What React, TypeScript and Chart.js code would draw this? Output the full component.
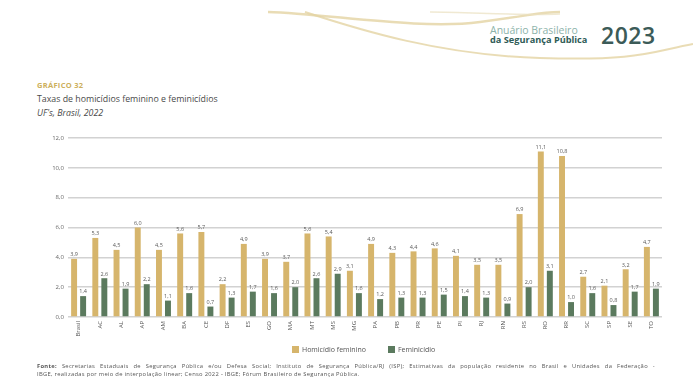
import React, { useEffect, useRef } from "react";
import { Chart, registerables } from "chart.js";

Chart.register(...registerables);

const categories = ["Brasil", "AC", "AL", "AP", "AM", "BA", "CE", "DF", "ES", "GO", "MA", "MT", "MS", "MG", "PA", "PB", "PR", "PE", "PI", "RJ", "RN", "RS", "RO", "RR", "SC", "SP", "SE", "TO"];
const homicidioFeminino = [3.9, 5.3, 4.5, 6.0, 4.5, 5.6, 5.7, 2.2, 4.9, 3.9, 3.7, 5.6, 5.4, 3.1, 4.9, 4.3, 4.4, 4.6, 4.1, 3.5, 3.5, 6.9, 11.1, 10.8, 2.7, 2.1, 3.2, 4.7];
const feminicidio = [1.4, 2.6, 1.9, 2.2, 1.1, 1.6, 0.7, 1.3, 1.7, 1.6, 2.0, 2.6, 2.9, 1.6, 1.2, 1.3, 1.3, 1.5, 1.4, 1.3, 0.9, 2.0, 3.1, 1.0, 1.6, 0.8, 1.7, 1.9];
const seriesNames = ["Homicídio feminino", "Feminicídio"];
const yTicks = [0, 2, 4, 6, 8, 10, 12];

const GOLD = "#d6b56c";
const GREEN = "#5b7a5e";
const FONT = "'Open Sans', 'DejaVu Sans', sans-serif";

const fmt = (v: number) => v.toFixed(1).replace(".", ",");

const valueLabels = {
  id: "valueLabels",
  afterDatasetsDraw(chart: any) {
    const ctx = chart.ctx;
    ctx.save();
    ctx.font = `5.5px ${FONT}`;
    ctx.fillStyle = "#5a5a5a";
    ctx.textAlign = "center";
    ctx.textBaseline = "bottom";
    chart.data.datasets.forEach((ds: any, i: number) => {
      const meta = chart.getDatasetMeta(i);
      meta.data.forEach((bar: any, j: number) => {
        ctx.fillText(fmt(ds.data[j]), bar.x, bar.y - 1.5);
      });
    });
    ctx.restore();
  },
};

function BarChart() {
  const ref = useRef<HTMLCanvasElement>(null);
  useEffect(() => {
    if (!ref.current) return;
    const chart = new Chart(ref.current, {
      type: "bar",
      data: {
        labels: categories,
        datasets: [
          { label: seriesNames[0], data: homicidioFeminino, backgroundColor: GOLD, categoryPercentage: 0.85, barPercentage: 0.66 },
          { label: seriesNames[1], data: feminicidio, backgroundColor: GREEN, categoryPercentage: 0.85, barPercentage: 0.66 },
        ],
      },
      options: {
        animation: false,
        responsive: false,
        maintainAspectRatio: false,
        layout: { padding: { top: 13, right: 31, left: 0, bottom: 0 } },
        plugins: {
          tooltip: { enabled: false },
          legend: { display: false },
        },
        scales: {
          x: {
            grid: { display: false, drawTicks: false },
            border: { display: false },
            ticks: {
              color: "#555",
              font: { family: FONT, size: 6 },
              maxRotation: 90,
              minRotation: 90,
              padding: 4,
              autoSkip: false,
            },
            afterFit(scale: any) {
              scale.height = 29;
            },
          },
          y: {
            min: 0,
            max: 12,
            afterBuildTicks(scale: any) {
              scale.ticks = yTicks.map((v) => ({ value: v }));
            },
            grid: { color: "#d2d2d2", lineWidth: 1.5, drawTicks: false },
            border: { display: false },
            ticks: {
              color: "#666",
              font: { family: FONT, size: 6 },
              padding: 4,
              callback: (v: any) => fmt(Number(v)),
            },
            afterFit(scale: any) {
              scale.width = 68;
            },
          },
        },
      },
      plugins: [valueLabels],
    });
    return () => chart.destroy();
  }, []);
  return <canvas ref={ref} width={693} height={221} style={{ position: "absolute", left: 0, top: 125, width: 693, height: 221 }} />;
}

export default function App() {
  const legendText = { position: "absolute" as const, top: 346, fontSize: 7, lineHeight: "8px", color: "#555" };
  const footLine = { position: "absolute" as const, left: 37, width: 618, fontSize: 5.8, lineHeight: "8px", color: "#555", letterSpacing: 0.3, whiteSpace: "nowrap" as const };
  return (
    <div style={{ position: "fixed", left: 0, top: 0, width: 693, height: 387, background: "#fff", overflow: "hidden", fontFamily: FONT }}>
      <svg width={693} height={80} style={{ position: "absolute", left: 0, top: 0 }}>
        <path d="M268 12 C 330 14, 420 30, 480 22 S 540 12, 560 12" stroke="#e3d3a2" strokeWidth={2.5} fill="none" opacity={0.8} />
        <path d="M305 12 C 360 30, 440 55, 540 58 S 650 52, 693 44" stroke="#e3d3a2" strokeWidth={2} fill="none" opacity={0.8} />
        <path d="M430 12 C 470 12, 520 16, 560 14" stroke="#eadfbf" strokeWidth={1.5} fill="none" opacity={0.7} />
      </svg>
      <div style={{ position: "absolute", left: 490, top: 25, lineHeight: "10px", whiteSpace: "nowrap" }}>
        <div style={{ fontSize: 10.5, color: "#8db3aa" }}>Anuário Brasileiro</div>
        <div style={{ fontSize: 9.2, color: "#2f5c57", fontWeight: 700 }}>da Segurança Pública</div>
      </div>
      <div style={{ position: "absolute", left: 601, top: 19, fontSize: 23, color: "#3c5b58", fontWeight: 600, letterSpacing: 0.5 }}>2023</div>
      <div style={{ position: "absolute", left: 37, top: 80, fontSize: 7.5, color: "#cdb05c", fontWeight: 700, letterSpacing: 0.3 }}>GRÁFICO 32</div>
      <div style={{ position: "absolute", left: 37, top: 93, fontSize: 8.8, color: "#4a4a4a" }}>Taxas de homicídios feminino e feminicídios</div>
      <div style={{ position: "absolute", left: 37, top: 107, fontSize: 8.8, color: "#4a4a4a", fontStyle: "italic" }}>UF's, Brasil, 2022</div>
      <BarChart />
      <div style={{ position: "absolute", left: 292, top: 346, width: 7, height: 7, background: GOLD }} />
      <div style={{ ...legendText, left: 302 }}>{seriesNames[0]}</div>
      <div style={{ position: "absolute", left: 388, top: 346, width: 7, height: 7, background: GREEN }} />
      <div style={{ ...legendText, left: 398 }}>{seriesNames[1]}</div>
      <div style={{ ...footLine, top: 362, textAlign: "justify", textAlignLast: "justify" as any, whiteSpace: "normal" }}>
        <b>Fonte:</b> Secretarias Estaduais de Segurança Pública e/ou Defesa Social; Instituto de Segurança Pública/RJ (ISP); Estimativas da população residente no Brasil e Unidades da Federação -
      </div>
      <div style={{ ...footLine, top: 370 }}>
        IBGE, realizadas por meio de interpolação linear; Censo 2022 - IBGE; Fórum Brasileiro de Segurança Pública.
      </div>
    </div>
  );
}
